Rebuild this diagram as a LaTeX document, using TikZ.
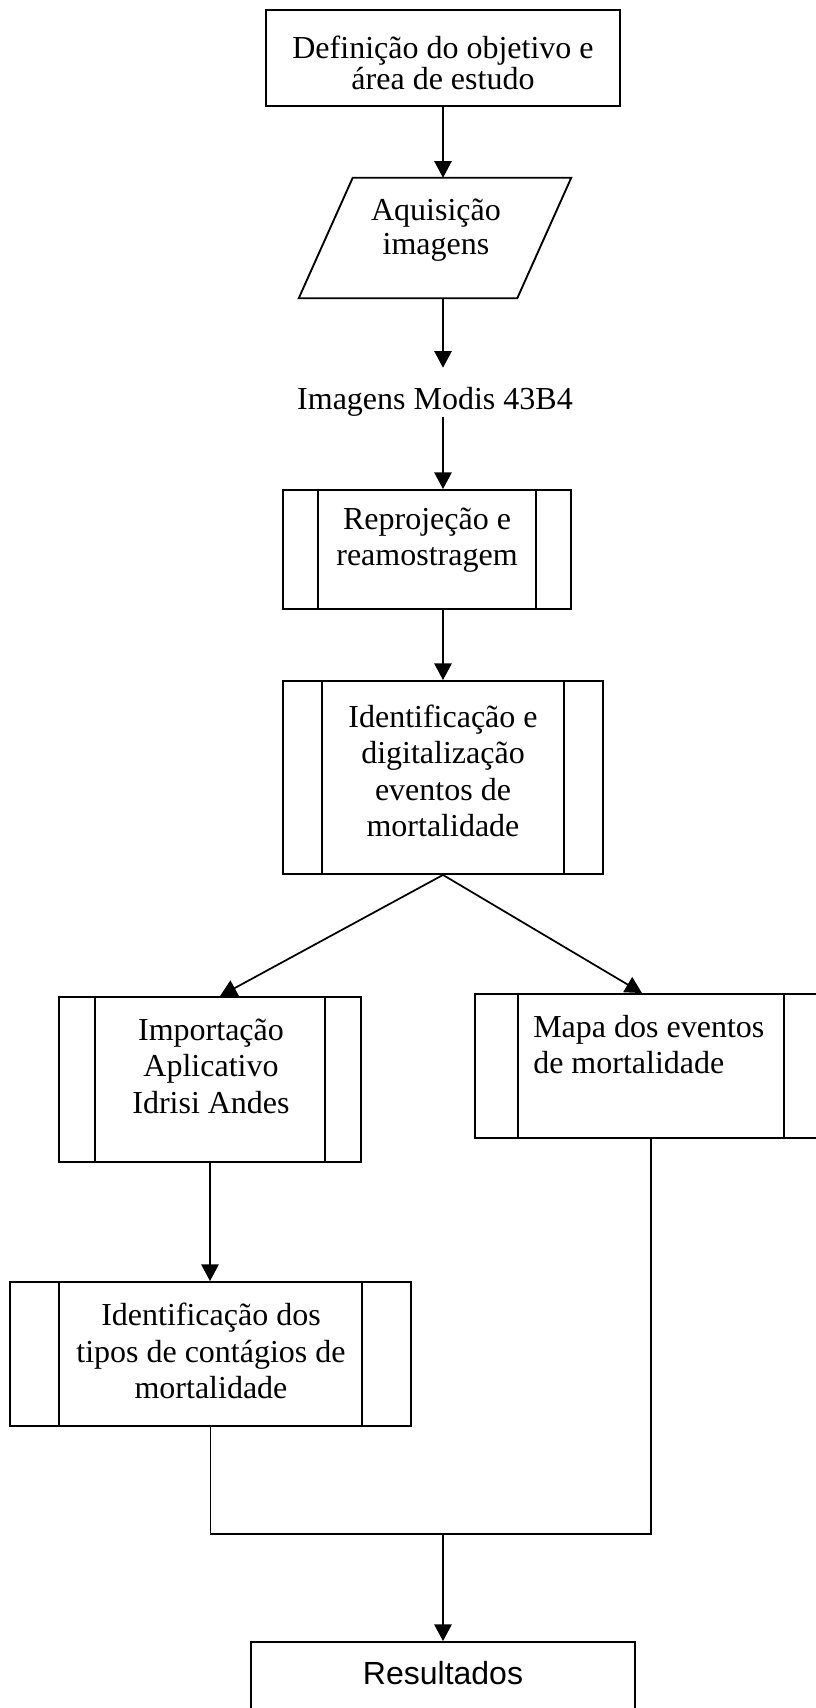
\documentclass[tikz,border=0pt]{standalone}
\usepackage{fontspec}
\setmainfont{Liberation Serif}
\newfontfamily\arialfont{Liberation Sans}
\usetikzlibrary{arrows.meta}
\tikzset{
  boxline/.style={draw, line width=1.4pt, inner sep=0pt},
  plainbox/.style={boxline, rectangle},
  procbox/.style={boxline, rectangle,
    path picture={\draw[line width=1.4pt]
      ([xshift=#1]path picture bounding box.north west) -- ([xshift=#1]path picture bounding box.south west)
      ([xshift=-#1]path picture bounding box.north east) -- ([xshift=-#1]path picture bounding box.south east);}},
  iobox/.style={rectangle, inner sep=0pt},
  ioline/.style={line width=1.4pt, line join=miter},
  lbl/.style={inner sep=0pt, align=center, font=\fontsize{24pt}{27.4pt}\selectfont},
  arr/.style={-{Triangle[length=12.5pt,width=13pt]}, line width=1.3pt},
  conn/.style={line width=1.3pt},
}
\begin{document}
\begin{tikzpicture}[x=0.75pt, y=-0.75pt]
\useasboundingbox (0,0) rectangle (816,1708);
\coordinate (cx) at (443,0);
% shapes
\node[plainbox, minimum width=265.5pt, minimum height=72pt] (top) at (443,58) {};
\node[iobox, minimum width=204pt, minimum height=90pt] (aq) at (435,238) {};
\draw[ioline] ([xshift=40.5pt]aq.north west) -- (aq.north east) -- ([xshift=-40.5pt]aq.south east) -- (aq.south west) -- cycle;
\node[inner sep=0pt, anchor=base, text height=30.75pt, text depth=6pt, font=\fontsize{24pt}{27pt}\selectfont] (modis) at (435,409) {Imagens Modis 43B4};
\node[procbox=26.25pt, minimum width=216pt, minimum height=89.25pt] (reproj) at (427,549.5) {};
\node[procbox=29.25pt, minimum width=240pt, minimum height=144.75pt] (ident) at (443,777.5) {};
\node[procbox=27pt, minimum width=226.5pt, minimum height=123.75pt] (imp) at (210,1079.5) {};
\node[procbox=32.25pt, minimum width=264pt, minimum height=108pt] (mapa) at (651,1066) {};
\node[procbox=36.75pt, minimum width=300.75pt, minimum height=108pt] (tipos) at (210.5,1354) {};
\node[plainbox, minimum width=288pt, minimum height=75pt] (res) at (443,1692) {};
% labels
\node[lbl, font=\fontsize{24pt}{23.25pt}\selectfont] (topl) at (443,63) {Definição do objetivo e\\área de estudo};
\node[lbl, font=\fontsize{24pt}{25.5pt}\selectfont] (aql) at (436,230) {Aquisição\\imagens};
\node[lbl] (reprojl) at (427,540) {Reprojeção e\\reamostragem};
\node[lbl] (identl) at (443,771) {Identificação e\\digitalização\\eventos de\\mortalidade};
\node[lbl] (impl) at (211,1066) {Importação\\Aplicativo\\Idrisi Andes};
\node[lbl, align=left, anchor=west] (mapal) at (533,1044.5) {Mapa dos eventos\\de mortalidade};
\node[lbl] (tiposl) at (211,1351) {Identificação dos\\tipos de contágios de\\mortalidade};
\node[inner sep=0pt, font=\arialfont\fontsize{24pt}{27pt}\selectfont] (resl) at (443,1673) {Resultados};
% connectors
\coordinate (join) at (443,1534);
\draw[arr] (top.south -| cx) -- (aq.north -| cx);
\draw[arr] (aq.south -| cx) -- (modis.north -| cx);
\draw[arr] (modis.south -| cx) -- (reproj.north -| cx);
\draw[arr] (reproj.south -| cx) -- (ident.north -| cx);
\draw[arr] (ident.south) -- ([xshift=7.5pt]imp.north);
\draw[arr] (ident.south) -- ([xshift=-6.75pt]mapa.north);
\draw[arr] (imp.south) -- (imp.south |- tipos.north);
\draw[conn] (tipos.south) |- (join) -| (mapa.south);
\draw[arr] (join) -- (res.north);
\end{tikzpicture}
\end{document}
